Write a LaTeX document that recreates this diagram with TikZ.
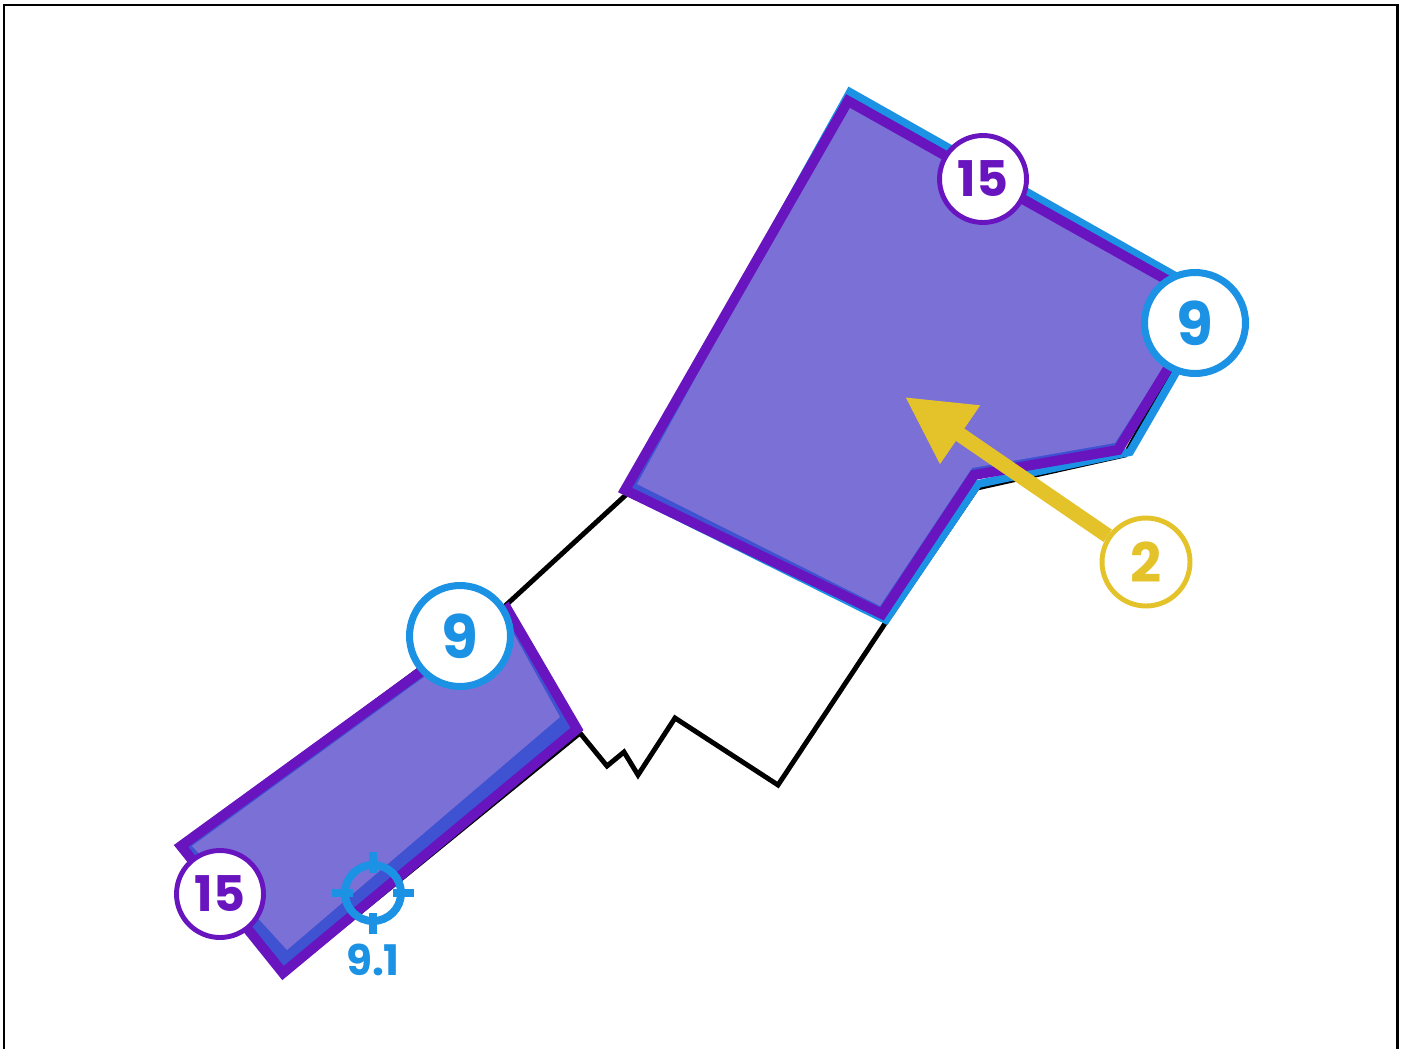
\documentclass[tikz,border=0pt]{standalone}
\usepackage{fontspec}
\setmainfont{Poppins}
\usetikzlibrary{arrows.meta}

\definecolor{violetline}{HTML}{6814BF}
\definecolor{lavender}{HTML}{7B70D6}
\definecolor{royal}{HTML}{3F52D2}
\definecolor{skyblue}{HTML}{1C92E4}
\definecolor{mustard}{HTML}{E4C22A}

\begin{document}
\begin{tikzpicture}[x=0.02cm, y=-0.02cm, >=latex]

% --- Styles ---
\tikzset{
    outline/.style={draw=black, line width=2.8pt, line join=miter},
    zoneBlue/.style={draw=skyblue, line width=4.5pt, line join=miter},
    zoneEdge/.style={draw=violetline, line width=5.7pt, line join=miter},
    badgeP/.style={circle, draw=violetline, fill=white, line width=2.8pt, minimum size=1.74cm, inner sep=0pt, text=violetline, font=\fontsize{28}{30}\selectfont\bfseries},
    badgeB/.style={circle, draw=skyblue, fill=white, line width=4pt, minimum size=2.02cm, inner sep=0pt, text=skyblue, font=\fontsize{34}{36}\selectfont\bfseries},
    badgeY/.style={circle, draw=mustard, fill=white, line width=2.8pt, minimum size=1.76cm, inner sep=0pt, text=mustard, font=\fontsize{31}{33}\selectfont\bfseries},
    yarrow/.style={draw=mustard, line width=8.5pt, -{Triangle[width=38pt, length=38pt]}},
    target/.style={draw=skyblue, line width=4.5pt},
    tglabel/.style={text=skyblue, font=\fontsize{24}{26}\selectfont\bfseries}
}

\useasboundingbox (0,0) rectangle (1405,1048);

% Frame
\draw[line width=1.7pt] (4,5) rectangle (1397,1080);

% Parcel outline
\draw[outline] (505,606) -- (628,493) -- (848,95) -- (1208,303) -- (1125,455)
    -- (977,488) -- (886,622) -- (778,785) -- (675,718) -- (638,775)
    -- (624,752) -- (607,766) -- (580,733) -- (283,975) -- (181,846) -- cycle;

% Zone A (boven)
\draw[zoneBlue] (850,92) -- (1218,300) -- (1130,452) -- (978,484) -- (886,620) -- (628,492) -- cycle;
\fill[royal] (848,101) -- (1208,303) -- (1118,450) -- (974,475) -- (882,614) -- (625,490) -- cycle;
\fill[lavender] (848,101) -- (1205,303) -- (1115,443) -- (972,468) -- (880,606) -- (637,484) -- cycle;
\draw[zoneEdge] (848,101) -- (1208,303) -- (1118,450) -- (974,475) -- (882,614) -- (625,490) -- cycle;

% Zone B (onder)
\fill[royal] (181,846) -- (507,609) -- (577,729) -- (283,973) -- cycle;
\fill[lavender] (192,846) -- (505,618) -- (560,717) -- (287,950) -- cycle;
\draw[zoneEdge] (181,846) -- (507,609) -- (577,729) -- (283,973) -- cycle;

% Target marker
\coordinate (tg) at (373,893);
\draw[target] (tg) circle (28);
\draw[target] (tg) ++(0,-41) -- ++(0,21);
\draw[target] (tg) ++(0,41) -- ++(0,-21);
\draw[target] (tg) ++(-41,0) -- ++(21,0);
\draw[target] (tg) ++(41,0) -- ++(-21,0);
\node[tglabel] (t1) at (373,960) {9.1};

% Badges
\node[badgeP] (p1) at (983,179) {15};
\node[badgeP] (p2) at (220,894) {15};
\node[badgeB] (b1) at (1195,323) {9};
\node[badgeB] (b2) at (460,636) {9};
\node[badgeY] (y1) at (1146,562) {2};

% Arrow
\coordinate (tip) at (905,397);
\draw[yarrow] (y1) -- (tip);

\end{tikzpicture}
\end{document}
